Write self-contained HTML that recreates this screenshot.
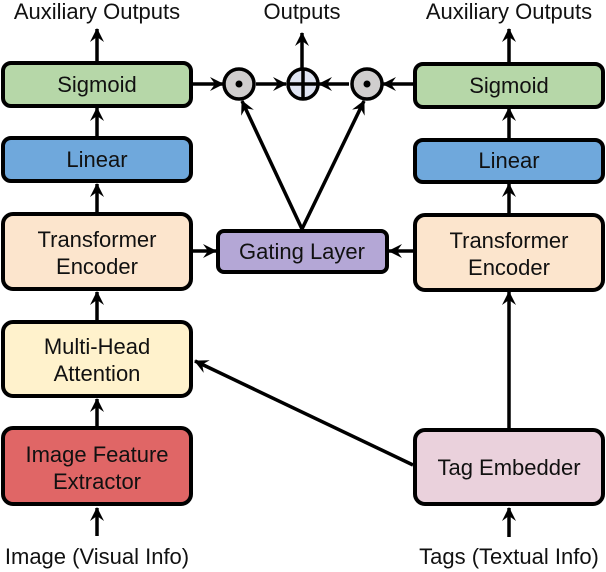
<!DOCTYPE html>
<html><head><meta charset="utf-8"><style>
body{margin:0;background:#fff}
svg{display:block}
text{font-family:"Liberation Sans",sans-serif;font-size:22px;fill:#111;text-anchor:middle}
rect{stroke:#000;stroke-width:4}
</style></head><body>
<svg width="606" height="572" viewBox="0 0 606 572">
<defs><marker id="a" markerWidth="16" markerHeight="14" refX="13" refY="7" orient="auto" markerUnits="userSpaceOnUse"><path d="M0,0 L14,7 L0,14 L5,7 Z" fill="#000"/></marker></defs>
<g stroke="#000" stroke-width="3.5" fill="none" marker-end="url(#a)">
<line x1="97" y1="62" x2="97" y2="29"/>
<line x1="97" y1="137" x2="97" y2="108"/>
<line x1="97" y1="213" x2="97" y2="184"/>
<line x1="97" y1="321" x2="97" y2="292"/>
<line x1="97" y1="427" x2="97" y2="399"/>
<line x1="97" y1="536" x2="97" y2="508"/>
<line x1="509" y1="62" x2="509" y2="29"/>
<line x1="509" y1="138" x2="509" y2="108"/>
<line x1="509" y1="213" x2="509" y2="184"/>
<line x1="509" y1="428" x2="509" y2="292"/>
<line x1="509" y1="537" x2="509" y2="508"/>
<line x1="302" y1="68" x2="302" y2="33"/>
<line x1="193" y1="84" x2="223" y2="84"/>
<line x1="256" y1="84" x2="286" y2="84"/>
<line x1="349" y1="84" x2="319" y2="84"/>
<line x1="413" y1="84" x2="383" y2="84"/>
<line x1="193" y1="251" x2="216" y2="251"/>
<line x1="413" y1="251" x2="389" y2="251"/>
<line x1="302" y1="229" x2="242" y2="101"/>
<line x1="302" y1="229" x2="364" y2="101"/>
<line x1="413" y1="465" x2="195" y2="361"/>
</g>
<rect x="3" y="63" width="188" height="43" rx="8" fill="#b6d7a8"/>
<rect x="3" y="138" width="188" height="43" rx="8" fill="#6fa8dc"/>
<rect x="3" y="214" width="188" height="75" rx="10" fill="#fce5cd"/>
<rect x="3" y="322" width="188" height="74" rx="10" fill="#fff2cc"/>
<rect x="3" y="428" width="188" height="76" rx="10" fill="#e06666"/>
<rect x="415" y="64" width="188" height="43" rx="8" fill="#b6d7a8"/>
<rect x="415" y="140" width="188" height="42" rx="8" fill="#6fa8dc"/>
<rect x="415" y="215" width="188" height="75" rx="10" fill="#fce5cd"/>
<rect x="415" y="430" width="188" height="74" rx="10" fill="#ead1dc"/>
<rect x="218" y="231" width="169" height="41" rx="6" fill="#b4a7d6"/>
<g stroke="#000" stroke-width="3.5">
<circle cx="239" cy="84" r="15" fill="#d0cece"/>
<circle cx="367" cy="84" r="15" fill="#d0cece"/>
<circle cx="303" cy="84" r="15" fill="#dfe4f2"/>
<line x1="303" y1="69" x2="303" y2="99"/><line x1="288" y1="84" x2="318" y2="84"/>
</g>
<circle cx="239" cy="84" r="3.5" fill="#000"/><circle cx="367" cy="84" r="3.5" fill="#000"/>
<text x="97" y="19">Auxiliary Outputs</text>
<text x="302" y="19">Outputs</text>
<text x="509" y="19">Auxiliary Outputs</text>
<text x="97" y="92">Sigmoid</text>
<text x="509" y="93">Sigmoid</text>
<text x="97" y="167">Linear</text>
<text x="509" y="168">Linear</text>
<text x="97" y="247">Transformer</text><text x="97" y="274">Encoder</text>
<text x="509" y="248">Transformer</text><text x="509" y="275">Encoder</text>
<text x="302" y="259">Gating Layer</text>
<text x="97" y="354">Multi-Head</text><text x="97" y="381">Attention</text>
<text x="97" y="462">Image Feature</text><text x="97" y="489">Extractor</text>
<text x="509" y="475">Tag Embedder</text>
<text x="97" y="564">Image (Visual Info)</text>
<text x="509" y="564">Tags (Textual Info)</text>
</svg>
</body></html>
